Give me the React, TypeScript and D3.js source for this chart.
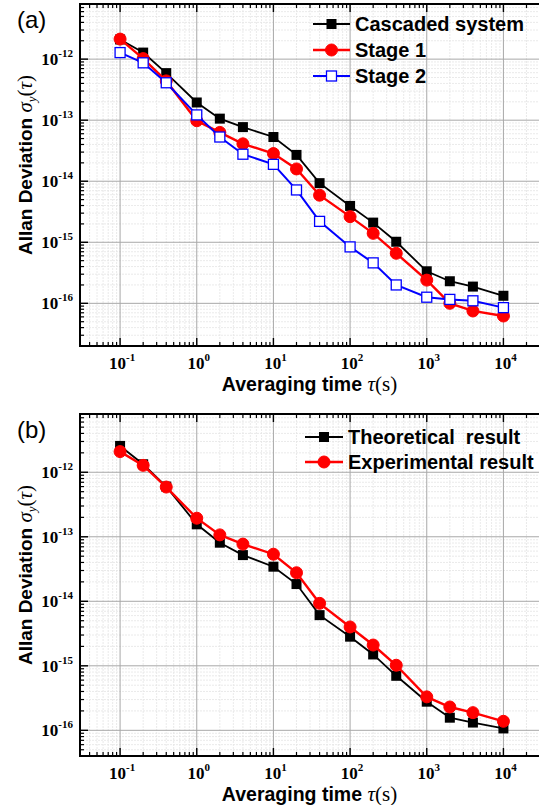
import React from 'react';
import * as d3 from 'd3';

// averaging times (s), shared by every series
const tau = [0.1, 0.2, 0.4, 1, 2, 4, 10, 20, 40, 100, 200, 400, 1000, 2000, 4000, 10000];

// panel (a)
const cascaded = [2.1e-12, 1.28e-12, 5.9e-13, 1.95e-13, 1.06e-13, 7.7e-14, 5.3e-14, 2.7e-14, 9.3e-15, 3.94e-15, 2.1e-15, 1.02e-15, 3.35e-16, 2.3e-16, 1.88e-16, 1.33e-16];
const stage1 = [2.13e-12, 1.02e-12, 4.4e-13, 9.8e-14, 6.3e-14, 4.1e-14, 2.84e-14, 1.59e-14, 5.9e-15, 2.63e-15, 1.4e-15, 6.6e-16, 2.4e-16, 1.0e-16, 7.5e-17, 6.2e-17];
const stage2 = [1.28e-12, 8.7e-13, 4.1e-13, 1.22e-13, 5.3e-14, 2.77e-14, 1.89e-14, 7.2e-15, 2.2e-15, 8.4e-16, 4.6e-16, 2.0e-16, 1.26e-16, 1.16e-16, 1.1e-16, 8.5e-17];

// panel (b)
const theoretical = [2.56e-12, 1.33e-12, 6.0e-13, 1.56e-13, 8.1e-14, 5.2e-14, 3.44e-14, 1.85e-14, 6.1e-15, 2.83e-15, 1.5e-15, 7.0e-16, 2.78e-16, 1.57e-16, 1.32e-16, 1.07e-16];
const experimental = [2.09e-12, 1.28e-12, 5.9e-13, 1.94e-13, 1.07e-13, 7.7e-14, 5.37e-14, 2.77e-14, 9.3e-15, 4.0e-15, 2.1e-15, 1.02e-15, 3.3e-16, 2.3e-16, 1.88e-16, 1.38e-16];

const xExponents = [-1, 0, 1, 2, 3, 4];
const yExponentsA = [-16, -15, -14, -13, -12];
const yExponentsB = [-16, -15, -14, -13, -12];

const W = 539;
const H = 805;
const sans = 'Arial, "Liberation Sans", sans-serif';
const serif = '"Times New Roman", "Liberation Serif", serif';

type Series = { name: string; values: number[]; color: string; marker: 'square' | 'circle' | 'open'; width: number };

const Marker = ({ x, y, type, color }: { x: number; y: number; type: string; color: string }) => {
  if (type === 'circle') {
    return <circle cx={x} cy={y} r={6} fill={color} stroke={color} strokeWidth={1} />;
  }
  if (type === 'open') {
    return <rect x={x - 5} y={y - 5} width={10} height={10} fill="#fff" stroke={color} strokeWidth={1.3} />;
  }
  return <rect x={x - 5} y={y - 5} width={10} height={10} fill={color} />;
};

// minor values (2..9 of each decade) inside a log domain
const minorValues = (lo: number, hi: number) => {
  const out: number[] = [];
  for (let e = Math.floor(Math.log10(lo)); e <= Math.ceil(Math.log10(hi)); e++) {
    for (let k = 2; k <= 9; k++) {
      const v = k * Math.pow(10, e);
      if (v > lo && v < hi) out.push(v);
    }
  }
  return out;
};

const Pow10 = ({ x, y, exp, anchor }: { x: number; y: number; exp: number; anchor: string }) => (
  <text x={x} y={y} textAnchor={anchor} fontFamily={serif} fontWeight="bold" fontSize={17} fill="#000">
    10<tspan fontSize={11} dy={-8}>{exp}</tspan>
  </text>
);

const Panel = ({
  top, bottom, yDomain, yExps, series, label, legendX, legendY, legendGap, lineX1, lineX2,
}: {
  top: number; bottom: number; yDomain: [number, number]; yExps: number[]; series: Series[];
  label: string; legendX: number; legendY: number; legendGap: number; lineX1: number; lineX2: number;
}) => {
  const left = 80;
  const right = 540;
  const x = d3.scaleLog().domain([0.03, 30000]).range([left, right]);
  const y = d3.scaleLog().domain(yDomain).range([bottom, top]);
  const xMajor = xExponents.map((e) => Math.pow(10, e));
  const yMajor = yExps.map((e) => Math.pow(10, e));
  const xMinor = minorValues(0.03, 30000);
  const yMinor = minorValues(yDomain[0], yDomain[1]);
  const line = d3.line<number>()
    .x((_, i) => x(tau[i]))
    .y((d) => y(d));

  return (
    <g>
      {/* minor grid */}
      {xMinor.map((v) => (
        <line key={`gx${v}`} x1={x(v)} x2={x(v)} y1={top} y2={bottom} stroke="#e4e4e4" strokeWidth={0.8} strokeDasharray="2,1" />
      ))}
      {yMinor.map((v) => (
        <line key={`gy${v}`} x1={left} x2={right} y1={y(v)} y2={y(v)} stroke="#e4e4e4" strokeWidth={0.8} strokeDasharray="2,1" />
      ))}
      {/* major grid */}
      {xMajor.map((v) => (
        <line key={`Gx${v}`} x1={x(v)} x2={x(v)} y1={top} y2={bottom} stroke="#a8a8a8" strokeWidth={1} />
      ))}
      {yMajor.map((v) => (
        <line key={`Gy${v}`} x1={left} x2={right} y1={y(v)} y2={y(v)} stroke="#a8a8a8" strokeWidth={1} />
      ))}

      {/* ticks, pointing inward */}
      {xMinor.map((v) => (
        <g key={`tx${v}`}>
          <line x1={x(v)} x2={x(v)} y1={bottom} y2={bottom - 4} stroke="#000" strokeWidth={1.2} />
          <line x1={x(v)} x2={x(v)} y1={top} y2={top + 4} stroke="#000" strokeWidth={1.2} />
        </g>
      ))}
      {xMajor.map((v) => (
        <g key={`Tx${v}`}>
          <line x1={x(v)} x2={x(v)} y1={bottom} y2={bottom - 8} stroke="#000" strokeWidth={1.4} />
          <line x1={x(v)} x2={x(v)} y1={top} y2={top + 8} stroke="#000" strokeWidth={1.4} />
        </g>
      ))}
      {yMinor.map((v) => (
        <line key={`ty${v}`} x1={left} x2={left + 4} y1={y(v)} y2={y(v)} stroke="#000" strokeWidth={1.2} />
      ))}
      {yMajor.map((v) => (
        <line key={`Ty${v}`} x1={left} x2={left + 8} y1={y(v)} y2={y(v)} stroke="#000" strokeWidth={1.4} />
      ))}

      {/* frame */}
      <rect x={left} y={top} width={right - left} height={bottom - top} fill="none" stroke="#000" strokeWidth={2} />

      {/* tick labels */}
      {xExponents.map((e) => (
        <Pow10 key={`lx${e}`} x={x(Math.pow(10, e)) + 2} y={bottom + 23} exp={e} anchor="middle" />
      ))}
      {yExps.map((e) => (
        <Pow10 key={`ly${e}`} x={73} y={y(Math.pow(10, e)) + 6} exp={e} anchor="end" />
      ))}

      {/* series */}
      {series.map((s) => (
        <g key={s.name}>
          <path d={line(s.values) || ''} fill="none" stroke={s.color} strokeWidth={s.width} />
          {s.values.map((v, i) => (
            <Marker key={i} x={x(tau[i])} y={y(v)} type={s.marker} color={s.color} />
          ))}
        </g>
      ))}

      {/* legend */}
      {series.map((s, i) => {
        const ly = legendY + i * legendGap;
        return (
          <g key={`leg${s.name}`}>
            <line x1={lineX1} x2={lineX2} y1={ly} y2={ly} stroke={s.color} strokeWidth={s.width} />
            <Marker x={(lineX1 + lineX2) / 2} y={ly} type={s.marker} color={s.color} />
            <text x={legendX} y={ly + 7} fontFamily={sans} fontWeight="bold" fontSize={20} fill="#000" style={{ whiteSpace: 'pre' }}>
              {s.name}
            </text>
          </g>
        );
      })}

      {/* axis titles */}
      <text x={(left + W) / 2} y={bottom + 45} textAnchor="middle" fontFamily={sans} fontWeight="bold" fontSize={19.5} fill="#000">
        Averaging time{' '}
        <tspan fontFamily={serif} fontStyle="italic" fontWeight="normal" fontSize={21}>τ</tspan>
        <tspan fontFamily={serif} fontWeight="normal" fontSize={21}>(s)</tspan>
      </text>
      <text
        transform={`translate(32, ${(top + bottom) / 2 - 10}) rotate(-90)`}
        textAnchor="middle" fontFamily={sans} fontWeight="bold" fontSize={19} fill="#000"
      >
        Allan Deviation{' '}
        <tspan fontFamily={serif} fontStyle="italic" fontWeight="normal" fontSize={21}>σ</tspan>
        <tspan fontFamily={serif} fontStyle="italic" fontWeight="normal" fontSize={13} dy={4}>y</tspan>
        <tspan fontFamily={serif} fontWeight="normal" fontSize={21} dy={-4}>(</tspan>
        <tspan fontFamily={serif} fontStyle="italic" fontWeight="normal" fontSize={21}>τ</tspan>
        <tspan fontFamily={serif} fontWeight="normal" fontSize={21}>)</tspan>
      </text>

      {/* panel label */}
      <text x={17} y={top + 24} fontFamily={sans} fontSize={24} fill="#000">{label}</text>
    </g>
  );
};

const App = () => {
  const seriesA: Series[] = [
    { name: 'Cascaded system', values: cascaded, color: '#000000', marker: 'square', width: 1.8 },
    { name: 'Stage 1', values: stage1, color: '#ff0000', marker: 'circle', width: 2.4 },
    { name: 'Stage 2', values: stage2, color: '#0000ff', marker: 'open', width: 2 },
  ];
  const seriesB: Series[] = [
    { name: 'Theoretical  result', values: theoretical, color: '#000000', marker: 'square', width: 1.8 },
    { name: 'Experimental result', values: experimental, color: '#ff0000', marker: 'circle', width: 2.4 },
  ];

  return (
    <svg width={W} height={H} style={{ position: 'absolute', left: 0, top: 0, background: '#fff' }}>
      <rect width={W} height={H} fill="#fff" />
      <Panel
        top={4} bottom={346} yDomain={[2e-17, 8e-12]} yExps={yExponentsA} series={seriesA}
        label="(a)" legendX={355} legendY={24} legendGap={26} lineX1={313} lineX2={350}
      />
      <Panel
        top={414} bottom={756} yDomain={[4e-17, 8e-12]} yExps={yExponentsB} series={seriesB}
        label="(b)" legendX={348} legendY={437} legendGap={25} lineX1={305} lineX2={343}
      />
    </svg>
  );
};

export default App;
